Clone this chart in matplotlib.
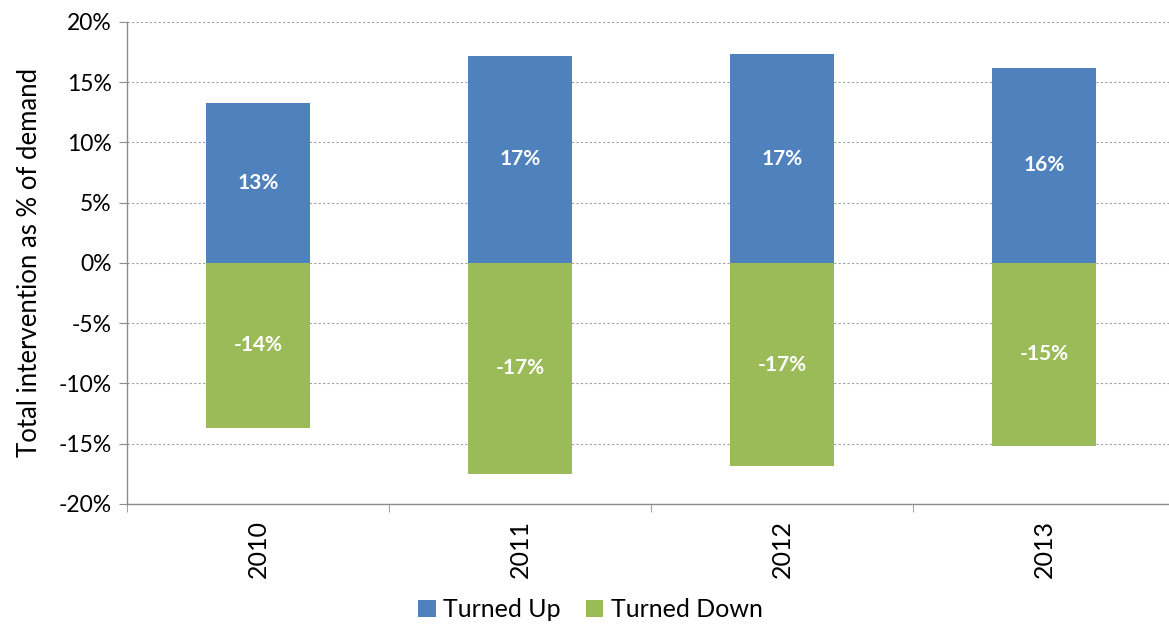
import matplotlib
matplotlib.use("Agg")
import matplotlib.pyplot as plt
import numpy as np

years = ["2010", "2011", "2012", "2013"]
turned_up = [13.3, 17.2, 17.3, 16.2]
turned_down = [-13.7, -17.5, -16.9, -15.2]
up_labels = ["13%", "17%", "17%", "16%"]
down_labels = ["-14%", "-17%", "-17%", "-15%"]

plt.rcParams['font.family'] = ['Lato', 'DejaVu Sans']

fig = plt.figure(figsize=(11.69, 6.25), dpi=100)
ax = fig.add_axes([0.1086, 0.194, 0.8965, 0.771])

x = np.arange(len(years))
w = 0.4
blue = "#4F81BD"
green = "#9BBB59"
ax.bar(x, turned_up, w, color=blue, label="Turned Up", zorder=3)
ax.bar(x, turned_down, w, color=green, label="Turned Down", zorder=3)

for i in range(len(years)):
    ax.text(x[i], turned_up[i] / 2, up_labels[i], ha="center", va="center",
            color="white", fontweight="bold", fontsize=15, zorder=4)
    ax.text(x[i], turned_down[i] / 2, down_labels[i], ha="center", va="center",
            color="white", fontweight="bold", fontsize=15, zorder=4)

ax.set_xlim(-0.5, len(years) - 0.5)
ax.set_ylim(-20, 20)
yt = np.arange(-20, 21, 5)
ax.set_yticks(yt)
ax.set_yticklabels([f"{v}%" for v in yt], fontsize=16.5)
ax.yaxis.grid(True, linestyle=(0, (2, 2)), color="#A0A0A0", linewidth=0.8, zorder=0)

ax.set_xticks(x)
ax.set_xticklabels(years, rotation=90, fontsize=18)
ax.tick_params(axis="x", length=0, pad=12)
ax.set_xticks(np.arange(-0.5, len(years), 1), minor=True)
ax.tick_params(axis="x", which="minor", length=6, color="#8C8C8C", direction="out")
ax.tick_params(axis="y", length=6, color="#8C8C8C", direction="out", pad=5)

for s in ["top", "right"]:
    ax.spines[s].set_visible(False)
for s in ["left", "bottom"]:
    ax.spines[s].set_color("#8C8C8C")
    ax.spines[s].set_linewidth(1.0)

ax.set_ylabel("Total intervention as % of demand", fontsize=18.5, labelpad=12)

handles, labels = ax.get_legend_handles_labels()
fig.legend(handles, labels, loc="lower center", bbox_to_anchor=(0.505, -0.03), ncol=2,
           frameon=False, fontsize=18, handlelength=0.7, handleheight=0.7,
           handletextpad=0.3, columnspacing=1.0)

fig.savefig("out.png", dpi=100)
